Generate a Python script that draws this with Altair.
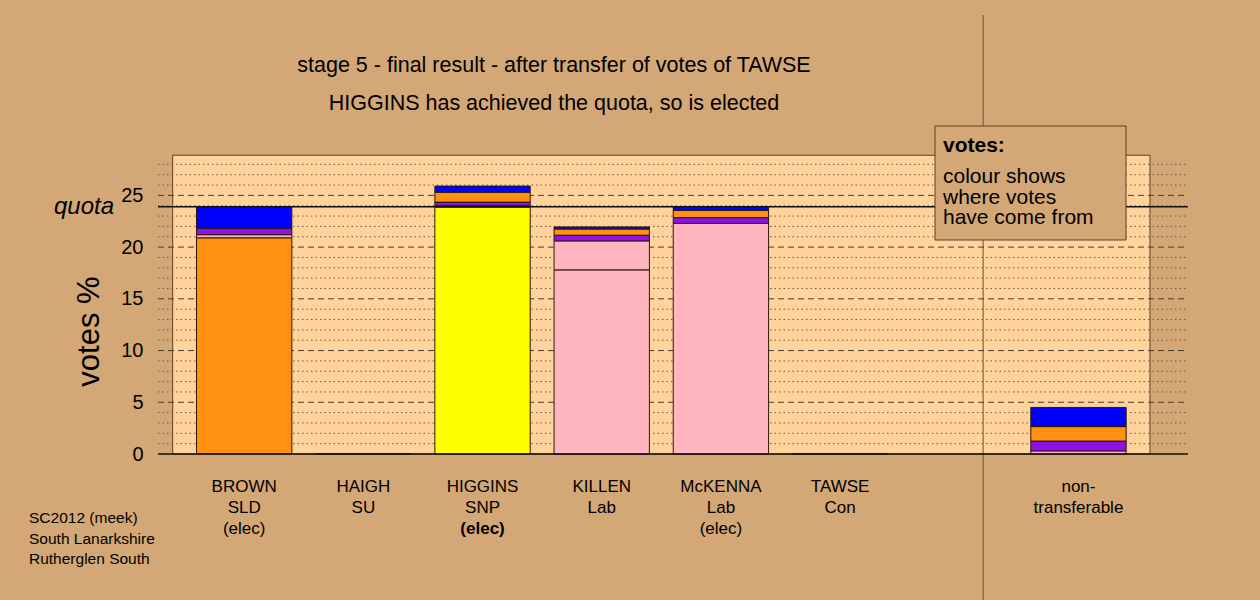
import altair as alt
import pandas as pd

# ---- ballot data (percent of valid vote) ----
slots = [1, 2, 3, 4, 5, 6, 7, 8]
names = ["BROWN", "HAIGH", "HIGGINS", "KILLEN", "McKENNA", "TAWSE", "", "non-"]
parties = ["SLD", "SU", "SNP", "Lab", "Lab", "Con", "", "transferable"]
status = ["(elec)", "", "(elec)", "", "(elec)", "", "", ""]
status_bold = [False, False, True, False, False, False, False, False]

ORANGE, PURPLE, YELLOW, PINK, BLUE = "#FF9010", "#9010E8", "#FFFF00", "#FFB6C1", "#0000FF"

# first preferences kept by each candidate, in the candidate's party colour
own_colour = [ORANGE, PURPLE, YELLOW, PINK, PINK, BLUE, None, None]
own_votes = [20.9, 0.0, 23.88, 17.8, 22.3, 0.0, None, None]

# transfers received, in order of the stage they arrived at
from_mckenna = [0.3, 0, 0.12, 2.8, 0, 0, 0, 0.3]
from_haigh = [0.6, 0, 0.35, 0.55, 0.55, 0, 0, 0.95]
from_brown = [0, 0, 0.95, 0.6, 0.7, 0, 0, 1.4]
from_tawse = [2.1, 0, 0.6, 0.2, 0.35, 0, 0, 1.85]
transfers = [(from_mckenna, PINK), (from_haigh, PURPLE), (from_brown, ORANGE), (from_tawse, BLUE)]

quota = 23.9
major_grid = [5, 10, 15, 20, 25]
minor_grid = [v for v in range(1, 29) if v % 5 != 0]
y_ticks = [0, 5, 10, 15, 20, 25]

BG = "#D4A876"
PANEL = "#FFD39B"
FONT = "Liberation Sans"

# ---- stacked segments ----
rows = []
for i, s in enumerate(slots):
    base = 0.0
    if own_votes[i] is not None:
        rows.append({"slot": s, "y0": base, "y1": base + own_votes[i], "colour": own_colour[i]})
        base += own_votes[i]
    for vals, col in transfers:
        if vals[i] > 0:
            rows.append({"slot": s, "y0": base, "y1": base + vals[i], "colour": col})
            base += vals[i]
segments = pd.DataFrame(rows)

labels = pd.DataFrame({"slot": slots, "name": names, "party": parties,
                       "status": status, "bold": status_bold})

W, H = 1030, 300
xscale = alt.Scale(domain=[0.277, 8.919], nice=False, zero=False)
yscale = alt.Scale(domain=[0, 29], nice=False, zero=False)
yaxis = alt.Axis(values=y_ticks, labelFontSize=20, labelFont=FONT, labelColor="black",
                 labelPadding=15, ticks=False, domain=False, grid=False, title=None,
                 labelFlush=False)

panel = alt.Chart(pd.DataFrame({"a": [0.4], "b": [8.6], "lo": [0], "hi": [28.88]})).mark_rect(
    fill=PANEL, stroke="#5a4020", strokeWidth=1
).encode(
    x=alt.X("a:Q", scale=xscale, axis=None), x2="b:Q",
    y=alt.Y("lo:Q", scale=yscale, axis=yaxis), y2="hi:Q",
)

divider = alt.Chart(pd.DataFrame({"v": [7.2]})).mark_rule(color="#6b5335", strokeWidth=1).encode(
    x=alt.X("v:Q", scale=xscale, axis=None),
    y=alt.value(15 - 154), y2=alt.value(600 - 154),
)

minor = alt.Chart(pd.DataFrame({"v": minor_grid})).mark_rule(
    color="#6e5a44", strokeWidth=1, strokeDash=[1.5, 3]
).encode(y=alt.Y("v:Q", scale=yscale, axis=yaxis), x=alt.value(0), x2=alt.value(W))

major = alt.Chart(pd.DataFrame({"v": major_grid})).mark_rule(
    color="#4a3a2a", strokeWidth=1, strokeDash=[6, 4]
).encode(y=alt.Y("v:Q", scale=yscale, axis=yaxis), x=alt.value(0), x2=alt.value(W))

bars = alt.Chart(segments).transform_calculate(
    left="datum.slot - 0.4", right="datum.slot + 0.4"
).mark_rect(stroke="#2a1a0a", strokeWidth=1).encode(
    x=alt.X("left:Q", scale=xscale, axis=None), x2="right:Q",
    y=alt.Y("y0:Q", scale=yscale, axis=yaxis), y2="y1:Q",
    color=alt.Color("colour:N", scale=None),
)

hlines = alt.Chart(pd.DataFrame({"v": [0, quota]})).mark_rule(color="#111111", strokeWidth=1.4).encode(
    y=alt.Y("v:Q", scale=yscale, axis=yaxis), x=alt.value(0), x2=alt.value(W)
)

quota_label = alt.Chart(pd.DataFrame({"v": [quota], "t": ["quota"]})).mark_text(
    font=FONT, fontSize=24, fontStyle="italic", align="right", baseline="alphabetic", dy=7, color="black"
).encode(y=alt.Y("v:Q", scale=yscale, axis=yaxis), x=alt.value(114 - 158), text="t:N")


def cand_text(field, ybase, weight="normal", filt=None):
    base = alt.Chart(labels)
    if filt is not None:
        base = base.transform_filter(filt)
    return base.mark_text(
        font=FONT, fontSize=17, fontWeight=weight, align="center", baseline="alphabetic", color="black"
    ).encode(x=alt.X("slot:Q", scale=xscale, axis=None), y=alt.value(ybase), text=f"{field}:N")


line1 = cand_text("name", 338)
line2 = cand_text("party", 359)
line3 = cand_text("status", 379.5, filt="!datum.bold")
line3b = cand_text("status", 379.5, weight="bold", filt="datum.bold")


def free_text(lines, x, y0, step, size, weight="normal", align="left", angle=0):
    df = pd.DataFrame({"t": lines, "k": list(range(len(lines)))})
    return alt.Chart(df).transform_calculate(yy=f"{y0} + datum.k * {step}").mark_text(
        font=FONT, fontSize=size, fontWeight=weight, align=align, baseline="alphabetic",
        color="black", angle=angle
    ).encode(x=alt.value(x), y=alt.Y("yy:Q", scale=None), text="t:N")


title1 = free_text(["stage 5 - final result - after transfer of votes of TAWSE"], 396, -82, 0, 21.5, align="center")
title2 = free_text(["HIGGINS has achieved the quota, so is elected"], 396, -44, 0, 21.5, align="center")
ytitle = free_text(["votes %"], 99 - 158, 331.5 - 154, 0, 31, align="center", angle=270)
footer = free_text(["SC2012 (meek)", "South Lanarkshire", "Rutherglen South"], 29 - 158, 523.3 - 154, 20.5, 15.5)

legend_box = alt.Chart(pd.DataFrame({"a": [0]})).mark_rect(fill=BG, stroke="#5a4020", strokeWidth=1).encode(
    x=alt.value(935 - 158), x2=alt.value(1126 - 158), y=alt.value(126 - 154), y2=alt.value(240 - 154)
)
legend_head = free_text(["votes:"], 943 - 158, 152 - 154, 0, 21, weight="bold")
legend_body = free_text(["colour shows", "where votes", "have come from"], 943 - 158, 183 - 154, 20.7, 21)

chart = alt.layer(
    panel, divider, minor, major, bars, hlines, quota_label,
    line1, line2, line3, line3b, title1, title2, ytitle, footer,
    legend_box, legend_head, legend_body,
).properties(
    width=W, height=H, background=BG,
    padding={"left": 158, "top": 154, "right": 72, "bottom": 146},
    autosize=alt.AutoSizeParams(type="none"),
).configure_view(strokeWidth=0)

chart.save("out.html", embed_options={"renderer": "svg", "actions": False})
